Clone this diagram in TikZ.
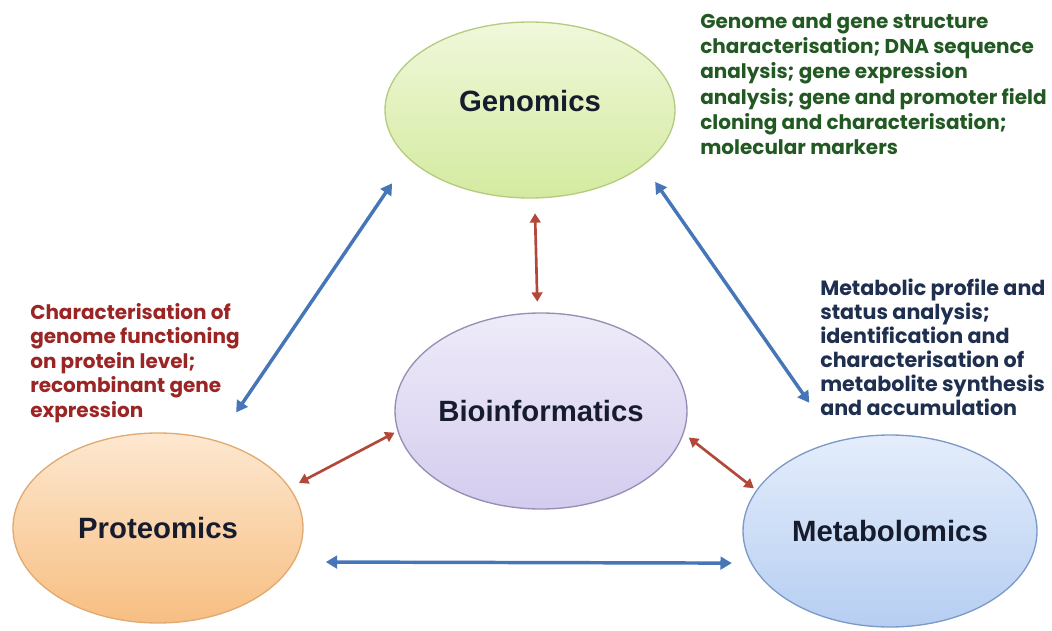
\documentclass[tikz,border=0pt]{standalone}
\usepackage{fontspec}
\usetikzlibrary{shapes.geometric,arrows.meta}
\newfontfamily\labelfont{Liberation Sans}
\newfontfamily\notefont{Poppins}
\definecolor{genTop}{RGB}{240,248,218}
\definecolor{genBot}{RGB}{212,234,160}
\definecolor{genLine}{RGB}{180,204,128}
\definecolor{bioTop}{RGB}{238,235,249}
\definecolor{bioBot}{RGB}{212,204,238}
\definecolor{bioLine}{RGB}{150,142,180}
\definecolor{protTop}{RGB}{253,232,208}
\definecolor{protBot}{RGB}{247,190,130}
\definecolor{protLine}{RGB}{226,170,112}
\definecolor{metabTop}{RGB}{228,237,251}
\definecolor{metabBot}{RGB}{182,206,242}
\definecolor{metabLine}{RGB}{124,154,200}
\definecolor{labelInk}{RGB}{22,28,45}
\definecolor{greenInk}{RGB}{34,88,34}
\definecolor{redInk}{RGB}{155,36,36}
\definecolor{navyInk}{RGB}{31,47,79}
\definecolor{blueArrow}{RGB}{70,118,184}
\definecolor{redArrow}{RGB}{178,72,58}

\begin{document}
\begin{tikzpicture}[x=0.75pt,y=0.75pt,yscale=-1,xscale=1,
  omics/.style={ellipse,inner sep=0pt,line width=1pt,text=labelInk,font=\labelfont\bfseries\fontsize{22}{26}\selectfont},
  note/.style={anchor=north west,inner sep=0pt,align=left,font=\notefont\bfseries\fontsize{15}{18.4}\selectfont},
  bluelink/.style={color=blueArrow,line width=2.6pt,{Triangle[length=8.5pt,width=9.5pt]}-{Triangle[length=8.5pt,width=9.5pt]}},
  redlink/.style={color=redArrow,line width=2pt,{Triangle[length=7pt,width=8pt]}-{Triangle[length=7pt,width=8pt]}}]
%uncomment if require: \path (0,631); %set diagram left start at 0, and has height of 631
\useasboundingbox (0,0) rectangle (1052,631);

%Shape: Ellipse [id:gen]
\draw (530,110) node [omics,draw=genLine,top color=genTop,bottom color=genBot,minimum width=217.5pt,minimum height=132pt,text depth=13.5pt] (gen) {Genomics};
%Shape: Ellipse [id:bio]
\draw (541,411) node [omics,draw=bioLine,top color=bioTop,bottom color=bioBot,minimum width=219pt,minimum height=147pt] (bio) {Bioinformatics};
%Shape: Ellipse [id:prot]
\draw (158,528) node [omics,draw=protLine,top color=protTop,bottom color=protBot,minimum width=217.5pt,minimum height=142.5pt] (prot) {Proteomics};
%Shape: Ellipse [id:metab]
\draw (890,531) node [omics,draw=metabLine,top color=metabTop,bottom color=metabBot,minimum width=220.5pt,minimum height=144pt] (metab) {Metabolomics};

%Straight Lines [id:gen-prot]
\draw [bluelink,shorten <=22pt,shorten >=25.5pt] (gen.202) -- (prot.56) ;
%Straight Lines [id:gen-metab]
\draw [bluelink,shorten <=15pt,shorten >=35pt] (gen.334) -- (metab.121) ;
%Straight Lines [id:prot-metab]
\draw [bluelink,shorten <=23.7pt,shorten >=14.2pt] (prot.346) -- (metab.193) ;
%Straight Lines [id:gen-bio]
\draw [redlink,shorten <=11pt,shorten >=8pt] (gen.273) -- (bio.92) ;
%Straight Lines [id:bio-prot]
\draw [redlink,shorten <=2.4pt,shorten >=7.5pt] (bio.188) -- (prot.17) ;
%Straight Lines [id:bio-metab]
\draw [redlink,shorten <=4.8pt,shorten >=2.2pt] (bio.351) -- (metab.163) ;

% Text Node
\draw (700,13) node [note,text=greenInk,font=\notefont\bfseries\fontsize{15}{19}\selectfont] (genNote) {Genome and gene structure\\characterisation; DNA sequence\\analysis; gene expression\\analysis; gene and promoter field\\cloning and characterisation;\\molecular markers};
% Text Node
\draw (30,303) node [note,text=redInk] (protNote) {Characterisation of\\genome functioning\\on protein level;\\recombinant gene\\expression};
% Text Node
\draw (820,279) node [note,text=navyInk,font=\notefont\bfseries\fontsize{15.5}{17.9}\selectfont] (metabNote) {Metabolic profile and\\status analysis;\\identification and\\characterisation of\\metabolite synthesis\\and accumulation};

\end{tikzpicture}
\end{document}
